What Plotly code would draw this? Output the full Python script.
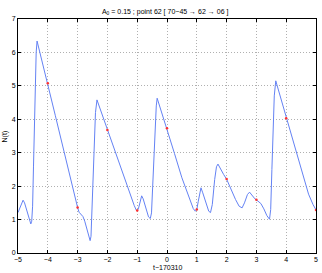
import plotly.graph_objects as go

# curve N(t)
t = [-5.0, -4.93, -4.87, -4.83, -4.78, -4.70, -4.62, -4.57, -4.54, -4.51, -4.48, -4.45, -4.42, -4.39, -4.36,
     -4.0, -3.75, -3.5, -3.25, -3.1, -3.0,
     -2.95, -2.88, -2.82, -2.76, -2.68, -2.62, -2.58, -2.55, -2.52, -2.48, -2.44, -2.40, -2.35,
     -2.0, -1.75, -1.5, -1.25, -1.1, -1.03, -1.0, -0.96, -0.9, -0.85, -0.8, -0.7, -0.62, -0.56,
     -0.52, -0.48, -0.44, -0.40, -0.36, -0.33,
     0.0, 0.25, 0.5, 0.75, 0.88, 0.95, 1.0, 1.05, 1.1, 1.14, 1.2, 1.3, 1.4, 1.46, 1.52, 1.6, 1.66, 1.71,
     1.8, 1.9, 2.0, 2.15, 2.3, 2.42, 2.52, 2.6, 2.7, 2.77, 2.85, 2.95, 3.0, 3.08, 3.15, 3.25, 3.35, 3.44,
     3.48, 3.52, 3.56, 3.6, 3.65, 3.8, 4.0, 4.25, 4.5, 4.75, 4.9, 5.0]
N = [1.21, 1.35, 1.52, 1.58, 1.50, 1.25, 0.98, 0.87, 0.95, 1.40, 2.6, 4.0, 5.2, 6.0, 6.34,
     5.08, 4.12, 3.2, 2.25, 1.7, 1.36,
     1.22, 1.13, 1.09, 0.95, 0.65, 0.45, 0.37, 0.5, 1.2, 2.4, 3.5, 4.2, 4.58,
     3.68, 3.05, 2.40, 1.80, 1.42, 1.28, 1.27, 1.32, 1.55, 1.71, 1.62, 1.30, 1.08, 1.03,
     1.2, 2.0, 3.0, 3.8, 4.4, 4.63,
     3.73, 2.98, 2.25, 1.6, 1.33, 1.25, 1.30, 1.55, 1.85, 1.95, 1.80, 1.50, 1.25, 1.21, 1.45, 2.2, 2.58, 2.66,
     2.50, 2.35, 2.21, 1.90, 1.60, 1.40, 1.35, 1.50, 1.75, 1.82, 1.72, 1.62, 1.59, 1.54, 1.48, 1.32, 1.12, 1.01,
     1.3, 2.5, 3.8, 4.7, 5.15, 4.68, 4.03, 3.25, 2.5, 1.76, 1.45, 1.29]

# sample points (red dots)
pt_t = [-4, -3, -2, -1, 0, 1, 2, 3, 4, 5]
pt_N = [5.08, 1.36, 3.68, 1.27, 3.73, 1.30, 2.21, 1.59, 4.03, 1.29]

x_ticks = [-5, -4, -3, -2, -1, 0, 1, 2, 3, 4, 5]
x_tick_text = ["\u22125", "\u22124", "\u22123", "\u22122", "\u22121", "0", "1", "2", "3", "4", "5"]
y_ticks = [0, 1, 2, 3, 4, 5, 6, 7]

FONT = "Liberation Sans, Arial"

fig = go.Figure()
fig.add_trace(go.Scatter(x=t, y=N, mode="lines",
                         line=dict(color="#6482f4", width=1), hoverinfo="skip"))
fig.add_trace(go.Scatter(x=pt_t, y=pt_N, mode="markers",
                         marker=dict(color="#ff3030", size=2.5), hoverinfo="skip"))

axis_common = dict(showline=True, linecolor="black", linewidth=1, mirror="ticks",
                   ticks="inside", ticklen=3, tickcolor="black", automargin=False,
                   showgrid=True, gridcolor="#b0b0b0", griddash="1px,2px", gridwidth=1,
                   zeroline=False, tickfont=dict(family=FONT, size=7, color="black"))

fig.update_layout(
    width=322, height=273,
    margin=dict(l=18, r=6, t=19, b=20, autoexpand=False),
    paper_bgcolor="white", plot_bgcolor="white",
    showlegend=False,
    title=dict(text="A<sub>0</sub> = 0.15 ; point 62 [ 70\u221245 \u2192 62 \u2192 06 ]",
               x=0.513, xanchor="center", y=0.958, yanchor="middle",
               font=dict(family=FONT, size=7, color="black")),
    xaxis=dict(range=[-5, 5], tickvals=x_ticks, ticktext=x_tick_text, **axis_common),
    yaxis=dict(range=[0, 7], tickvals=y_ticks, **axis_common),
    annotations=[
        dict(text="t\u2212170310", xref="paper", yref="paper", x=0.5, y=-0.038,
             xanchor="center", yanchor="top", showarrow=False,
             font=dict(family=FONT, size=7, color="black")),
        dict(text="N(t)", xref="paper", yref="paper", x=-0.022, y=0.5, textangle=-90,
             xanchor="right", yanchor="middle", showarrow=False,
             font=dict(family=FONT, size=7, color="black")),
    ],
)

fig.write_html("out.html", config={"displayModeBar": False},
               post_script="document.body.style.margin='0';document.body.style.overflow='hidden';")
